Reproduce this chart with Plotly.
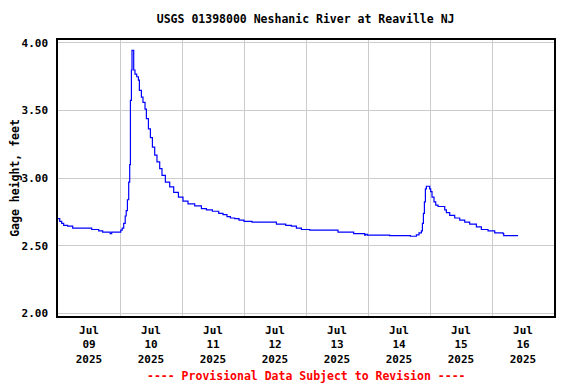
import plotly.graph_objects as go

times = [
    "2025-07-09 00:00", "2025-07-09 00:40", "2025-07-09 01:26", "2025-07-09 02:12", "2025-07-09 03:45",
    "2025-07-09 05:41", "2025-07-09 13:03", "2025-07-09 15:45", "2025-07-09 17:18", "2025-07-09 20:12",
    "2025-07-09 20:47", "2025-07-10 00:18", "2025-07-10 00:51", "2025-07-10 01:26", "2025-07-10 02:01",
    "2025-07-10 02:24", "2025-07-10 02:52", "2025-07-10 03:22", "2025-07-10 03:45", "2025-07-10 04:02",
    "2025-07-10 04:25", "2025-07-10 04:39", "2025-07-10 05:11", "2025-07-10 05:18", "2025-07-10 05:48",
    "2025-07-10 06:28", "2025-07-10 07:07", "2025-07-10 07:30", "2025-07-10 08:17", "2025-07-10 08:54",
    "2025-07-10 09:41", "2025-07-10 10:13", "2025-07-10 11:00", "2025-07-10 11:46", "2025-07-10 12:33",
    "2025-07-10 13:26", "2025-07-10 14:19", "2025-07-10 15:22", "2025-07-10 16:15", "2025-07-10 17:34",
    "2025-07-10 19:14", "2025-07-10 20:47", "2025-07-10 22:37", "2025-07-11 00:23", "2025-07-11 02:19",
    "2025-07-11 04:55", "2025-07-11 07:31", "2025-07-11 09:27", "2025-07-11 11:46", "2025-07-11 14:13",
    "2025-07-11 15:52", "2025-07-11 17:25", "2025-07-11 18:44", "2025-07-11 20:24", "2025-07-11 22:04",
    "2025-07-12 00:00", "2025-07-12 03:06", "2025-07-12 12:33", "2025-07-12 16:09", "2025-07-12 18:21",
    "2025-07-12 20:17", "2025-07-12 22:13", "2025-07-13 01:26", "2025-07-13 12:23", "2025-07-13 18:28",
    "2025-07-13 22:42", "2025-07-13 23:07", "2025-07-13 23:46", "2025-07-14 08:24", "2025-07-14 16:24",
    "2025-07-14 18:44", "2025-07-14 19:44", "2025-07-14 20:40", "2025-07-14 21:04", "2025-07-14 21:27",
    "2025-07-14 21:50", "2025-07-14 22:13", "2025-07-14 22:36", "2025-07-14 23:30", "2025-07-14 23:53",
    "2025-07-15 00:16", "2025-07-15 00:47", "2025-07-15 01:33", "2025-07-15 02:13", "2025-07-15 03:06",
    "2025-07-15 05:02", "2025-07-15 05:42", "2025-07-15 06:21", "2025-07-15 07:38", "2025-07-15 09:34",
    "2025-07-15 11:30", "2025-07-15 13:26", "2025-07-15 15:22", "2025-07-15 17:57", "2025-07-15 19:53",
    "2025-07-15 22:28", "2025-07-16 01:03", "2025-07-16 04:16", "2025-07-16 04:32", "2025-07-16 10:04",
]
gage_height = [
    2.70, 2.68, 2.665, 2.65, 2.645,
    2.63, 2.62, 2.61, 2.60, 2.59,
    2.60, 2.615, 2.63, 2.665, 2.72,
    2.76, 2.84, 2.97, 3.10, 3.575,
    3.80, 3.945, 3.945, 3.80, 3.77,
    3.75, 3.725, 3.65, 3.60, 3.56,
    3.51, 3.44, 3.365, 3.30, 3.23,
    3.17, 3.12, 3.07, 3.02, 2.97,
    2.935, 2.895, 2.86, 2.83, 2.81,
    2.795, 2.775, 2.765, 2.755, 2.74,
    2.73, 2.715, 2.705, 2.70, 2.69,
    2.68, 2.675, 2.66, 2.65, 2.645,
    2.63, 2.62, 2.615, 2.60, 2.59,
    2.578, 2.585, 2.578, 2.575, 2.57,
    2.58, 2.595, 2.61, 2.665, 2.74,
    2.825, 2.92, 2.94, 2.94, 2.92,
    2.90, 2.86, 2.825, 2.80, 2.79,
    2.79, 2.765, 2.745, 2.725, 2.705,
    2.69, 2.675, 2.66, 2.64, 2.62,
    2.61, 2.595, 2.59, 2.575, 2.575,
]

day_midnights = ["2025-07-%02d 00:00" % d for d in range(9, 18)]
label_positions = ["2025-07-%02d 12:00" % d for d in range(9, 17)]
label_texts = ["<b>Jul<br>%02d<br>2025</b>" % d for d in range(9, 17)]
y_ticks = [2.0, 2.5, 3.0, 3.5, 4.0]
y_tick_texts = ["<b>2.00</b>", "<b>2.50</b>", "<b>3.00</b>", "<b>3.50</b>", "<b>4.00</b>"]

FONT = "DejaVu Sans Mono"

fig = go.Figure()
fig.add_trace(go.Scatter(x=times, y=gage_height, mode="lines",
                         line=dict(color="#0000FF", width=1.2, shape="hv"),
                         showlegend=False))

fig.update_layout(
    width=568, height=376,
    margin=dict(l=50, r=22, t=31.5, b=68, autoexpand=False),
    paper_bgcolor="white", plot_bgcolor="white",
    title=dict(text="<b>USGS 01398000 Neshanic River at Reaville NJ</b>",
               x=0.524, xanchor="center", y=0.971, yanchor="middle",
               font=dict(family=FONT, size=11.5, color="black")),
    font=dict(family=FONT, color="black"),
)
fig.update_xaxes(
    type="date", range=["2025-07-09 00:00", "2025-07-17 00:00"],
    tickmode="array", tickvals=label_positions, ticktext=label_texts,
    tickfont=dict(family=FONT, size=11, color="black"),
    showgrid=False, ticks="outside", ticklen=3, tickcolor="white",
    showline=True, linecolor="black", linewidth=1.5, mirror=True,
    minor=dict(tickmode="array", tickvals=day_midnights, showgrid=True,
               gridcolor="#cccccc", gridwidth=1, ticks=""),
    zeroline=False, automargin=False,
)
fig.update_yaxes(
    range=[1.98, 4.022],
    tickmode="array", tickvals=y_ticks, ticktext=y_tick_texts,
    tickfont=dict(family=FONT, size=11, color="black"),
    showgrid=True, gridcolor="#cccccc", gridwidth=1,
    ticks="outside", ticklen=6, tickcolor="white",
    showline=True, linecolor="black", linewidth=1.5, mirror=True,
    title=dict(text="<b>Gage height, feet</b>", standoff=1,
               font=dict(family=FONT, size=11.5, color="black")),
    zeroline=False, automargin=False,
)
fig.add_annotation(text="<b>---- Provisional Data Subject to Revision ----</b>",
                   xref="paper", yref="paper", x=0.5, y=-0.217,
                   xanchor="center", yanchor="middle", showarrow=False,
                   font=dict(family=FONT, size=11.5, color="red"))

fig.write_html("out.html")
